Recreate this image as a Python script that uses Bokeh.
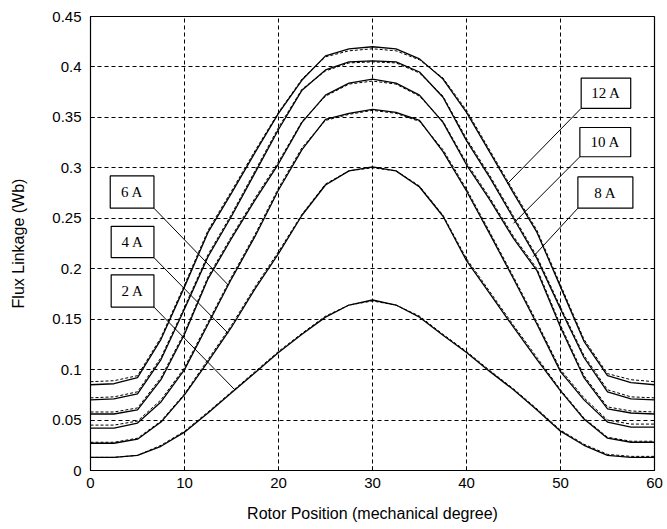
from bokeh.plotting import figure
from bokeh.models import FixedTicker, Range1d, ColumnDataSource
from bokeh.core.properties import value
from bokeh.embed import file_html
from bokeh.resources import INLINE

# ---------------- data ----------------
position_deg = [0, 2.5, 5, 7.5, 10, 12.5, 15, 17.5, 20, 22.5, 25, 27.5, 30,
                32.5, 35, 37.5, 40, 42.5, 45, 47.5, 50, 52.5, 55, 57.5, 60]

flux_2A = [0.013, 0.013, 0.015, 0.024, 0.038, 0.057, 0.077, 0.097, 0.117, 0.135, 0.152, 0.164, 0.169,
           0.164, 0.152, 0.134, 0.117, 0.098, 0.080, 0.060, 0.039, 0.025, 0.015, 0.013, 0.013]
flux_4A = [0.027, 0.027, 0.031, 0.048, 0.075, 0.108, 0.142, 0.180, 0.215, 0.253, 0.283, 0.297, 0.301,
           0.297, 0.281, 0.252, 0.208, 0.175, 0.142, 0.110, 0.079, 0.051, 0.032, 0.028, 0.028]
flux_6A = [0.042, 0.042, 0.047, 0.068, 0.100, 0.145, 0.190, 0.232, 0.278, 0.318, 0.348, 0.354, 0.358,
           0.355, 0.347, 0.316, 0.277, 0.234, 0.190, 0.145, 0.098, 0.070, 0.048, 0.043, 0.043]
flux_8A = [0.056, 0.056, 0.060, 0.090, 0.135, 0.190, 0.230, 0.268, 0.304, 0.345, 0.372, 0.384, 0.388,
           0.384, 0.372, 0.345, 0.303, 0.268, 0.230, 0.198, 0.142, 0.092, 0.061, 0.057, 0.056]
flux_10A = [0.070, 0.071, 0.076, 0.110, 0.160, 0.212, 0.252, 0.295, 0.338, 0.377, 0.397, 0.405, 0.406,
            0.405, 0.395, 0.370, 0.327, 0.290, 0.250, 0.210, 0.160, 0.112, 0.078, 0.071, 0.070]
flux_12A = [0.085, 0.086, 0.092, 0.130, 0.182, 0.236, 0.275, 0.315, 0.354, 0.387, 0.411, 0.418, 0.420,
            0.418, 0.408, 0.388, 0.355, 0.315, 0.275, 0.236, 0.182, 0.128, 0.094, 0.087, 0.085]

# dashed (second data set, nearly coincident)
flux_2A_d = [0.013, 0.013, 0.015, 0.025, 0.039, 0.058, 0.078, 0.098, 0.118, 0.136, 0.153, 0.164, 0.168,
             0.164, 0.153, 0.135, 0.118, 0.099, 0.081, 0.061, 0.040, 0.026, 0.016, 0.014, 0.014]
flux_4A_d = [0.028, 0.028, 0.032, 0.049, 0.076, 0.110, 0.144, 0.182, 0.217, 0.254, 0.284, 0.297, 0.300,
             0.297, 0.282, 0.253, 0.210, 0.177, 0.144, 0.112, 0.080, 0.052, 0.033, 0.029, 0.029]
flux_6A_d = [0.045, 0.045, 0.049, 0.070, 0.102, 0.147, 0.192, 0.234, 0.280, 0.320, 0.347, 0.353, 0.357,
             0.354, 0.346, 0.318, 0.279, 0.236, 0.192, 0.147, 0.100, 0.072, 0.050, 0.046, 0.046]
flux_8A_d = [0.058, 0.058, 0.062, 0.092, 0.137, 0.192, 0.232, 0.270, 0.306, 0.346, 0.371, 0.383, 0.386,
             0.383, 0.371, 0.346, 0.305, 0.270, 0.232, 0.200, 0.144, 0.094, 0.063, 0.059, 0.058]
flux_10A_d = [0.072, 0.073, 0.078, 0.112, 0.162, 0.214, 0.254, 0.297, 0.340, 0.378, 0.396, 0.404, 0.405,
              0.404, 0.394, 0.371, 0.329, 0.292, 0.252, 0.212, 0.162, 0.114, 0.080, 0.073, 0.072]
flux_12A_d = [0.088, 0.089, 0.094, 0.132, 0.184, 0.238, 0.277, 0.317, 0.355, 0.388, 0.410, 0.416, 0.418,
              0.416, 0.407, 0.389, 0.357, 0.317, 0.277, 0.238, 0.184, 0.130, 0.096, 0.090, 0.088]

solid_series = [flux_2A, flux_4A, flux_6A, flux_8A, flux_10A, flux_12A]
dashed_series = [flux_2A_d, flux_4A_d, flux_6A_d, flux_8A_d, flux_10A_d, flux_12A_d]

x_ticks = [0, 10, 20, 30, 40, 50, 60]
y_ticks = [0, 0.05, 0.1, 0.15, 0.2, 0.25, 0.3, 0.35, 0.4, 0.45]
y_tick_labels = ["0", "0.05", "0.1", "0.15", "0.2", "0.25", "0.3", "0.35", "0.4", "0.45"]

labels = ["2 A", "4 A", "6 A", "8 A", "10 A", "12 A"]
# label box: (x_left, x_right, y_bottom, y_top) and leader end point on curve
label_boxes = {
    "6 A": (2.1, 6.75, 0.260, 0.292),
    "4 A": (2.2, 6.75, 0.211, 0.242),
    "2 A": (2.2, 6.75, 0.162, 0.194),
    "12 A": (52.2, 57.47, 0.359, 0.389),
    "10 A": (52.06, 57.47, 0.311, 0.340),
    "8 A": (51.85, 57.7, 0.260, 0.291),
}
leaders = {
    "6 A": (6.75, 0.260, 14.64, 0.184),
    "4 A": (6.75, 0.211, 14.64, 0.136),
    "2 A": (6.75, 0.162, 15.35, 0.080),
    "12 A": (52.2, 0.359, 44.32, 0.284),
    "10 A": (52.06, 0.311, 45.0, 0.245),
    "8 A": (51.85, 0.260, 47.1, 0.212),
}

# ---------------- figure ----------------
FONT = "Liberation Sans"
p = figure(width=663, height=525, output_backend="svg", toolbar_location=None,
           x_range=Range1d(0, 60), y_range=Range1d(0, 0.45),
           min_border_left=90, min_border_right=9, min_border_top=16, min_border_bottom=55)

p.background_fill_color = "white"
p.border_fill_color = "white"
p.outline_line_color = "black"
p.outline_line_width = 1.2

for ax in (p.xaxis[0], p.yaxis[0]):
    ax.axis_line_color = "black"
    ax.major_tick_line_color = "black"
    ax.major_tick_in = 4
    ax.major_tick_out = 0
    ax.minor_tick_line_color = None
    ax.major_label_text_font = FONT
    ax.major_label_text_font_size = "15px"
    ax.major_label_text_color = "black"
    ax.axis_label_text_font = FONT
    ax.axis_label_text_font_size = "16px"
    ax.axis_label_text_font_style = "normal"
    ax.axis_label_text_color = "black"

p.xaxis.ticker = FixedTicker(ticks=x_ticks)
p.yaxis.ticker = FixedTicker(ticks=y_ticks)
p.yaxis.major_label_overrides = {t: s for t, s in zip(y_ticks, y_tick_labels)}
p.xaxis.axis_label = "Rotor Position (mechanical degree)"
p.yaxis.axis_label = "Flux Linkage (Wb)"
p.xaxis.major_label_standoff = 7
p.yaxis.major_label_standoff = 9
p.xaxis.axis_label_standoff = 14
p.yaxis.axis_label_standoff = 22

p.xgrid.grid_line_color = "black"
p.ygrid.grid_line_color = "black"
p.xgrid.grid_line_dash = "4 3"
p.ygrid.grid_line_dash = "4 3"
p.xgrid.grid_line_width = 1
p.ygrid.grid_line_width = 1

for ys in dashed_series:
    p.line(position_deg, ys, line_color="black", line_width=1, line_dash="3 2")
for ys in solid_series:
    p.line(position_deg, ys, line_color="black", line_width=1.3)

# leaders
p.segment(x0=[leaders[k][0] for k in labels], y0=[leaders[k][1] for k in labels],
          x1=[leaders[k][2] for k in labels], y1=[leaders[k][3] for k in labels],
          line_color="black", line_width=1)

# boxes
p.quad(left=[label_boxes[k][0] for k in labels], right=[label_boxes[k][1] for k in labels],
       bottom=[label_boxes[k][2] for k in labels], top=[label_boxes[k][3] for k in labels],
       fill_color="white", line_color="black", line_width=1.2)

src = ColumnDataSource(dict(
    x=[(label_boxes[k][0] + label_boxes[k][1]) / 2 for k in labels],
    y=[(label_boxes[k][2] + label_boxes[k][3]) / 2 for k in labels],
    t=labels))
p.text(x="x", y="y", text="t", source=src, text_align="center", text_baseline="middle",
       text_font=value("Liberation Serif"), text_font_size="15px", text_color="black")

open("out.html", "w").write(file_html(p, INLINE))
